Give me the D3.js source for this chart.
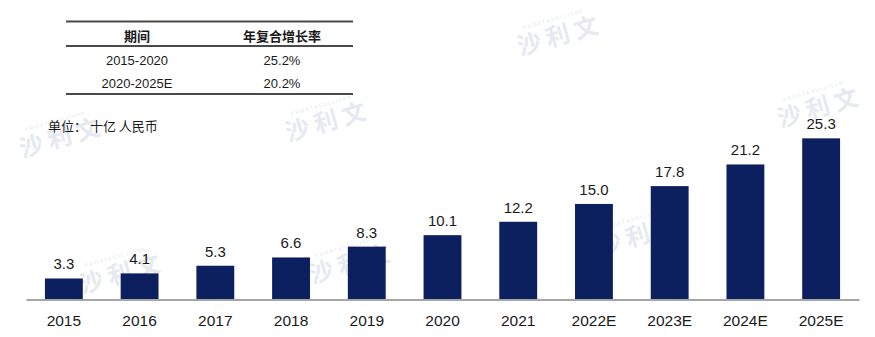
<!DOCTYPE html>
<html>
<head>
<meta charset="utf-8">
<script src="https://cdn.jsdelivr.net/npm/d3@7"></script>
<style>
  html, body { margin: 0; padding: 0; background: #fff; }
  svg { display: block; font-family: "Liberation Sans", Arial, "Noto Sans CJK SC", sans-serif; }
</style>
</head>
<body>
<svg id="chart" width="875" height="337"></svg>
<script>
// Market size, billion RMB
const years = ["2015", "2016", "2017", "2018", "2019", "2020", "2021", "2022E", "2023E", "2024E", "2025E"];
const values = [3.3, 4.1, 5.3, 6.6, 8.3, 10.1, 12.2, 15.0, 17.8, 21.2, 25.3];

// CAGR table
const tableHeader = ["期间", "年复合增长率"];
const periods = ["2015-2020", "2020-2025E"];
const cagr = ["25.2%", "20.2%"];

const unitLabel = "单位： 十亿 人民币";
const brand = "沙 利 文";
const brandSmall = "F R O S T  &  S U L L I V A N";

const svg = d3.select("#chart");

// Background watermark layer
const wmPos = [[62, 146], [328, 130], [560, 44], [820, 116], [122, 282], [352, 272], [640, 244]];
const wm = svg.append("g").attr("class", "watermark");
wmPos.forEach(([x, y]) => {
  const g = wm.append("g").attr("transform", `translate(${x},${y}) rotate(-16)`);
  g.append("text")
    .attr("text-anchor", "middle")
    .attr("font-family", "Noto Sans CJK SC")
    .attr("font-size", 24)
    .attr("font-weight", 700)
    .attr("fill", "#e6e9ef")
    .text(brand);
  g.append("text")
    .attr("text-anchor", "middle")
    .attr("y", -24)
    .attr("font-size", 5)
    .attr("fill", "#e2e6ec")
    .text(brandSmall);
});

// Scales
const x = d3.scaleBand()
  .domain(years)
  .range([26, 859])
  .paddingInner(0.5)
  .paddingOuter(0.25);

const y = d3.scaleLinear()
  .domain([0, 28])
  .range([299.5, 299.5 - 28 * 6.37]);

// Bars
svg.append("g")
  .selectAll("rect")
  .data(values)
  .join("rect")
  .attr("x", (d, i) => x(years[i]))
  .attr("y", d => y(d))
  .attr("width", x.bandwidth())
  .attr("height", d => y(0) - y(d))
  .attr("fill", "#0c1f5e");

// Value labels
svg.append("g")
  .selectAll("text")
  .data(values)
  .join("text")
  .attr("x", (d, i) => x(years[i]) + x.bandwidth() / 2)
  .attr("y", d => y(d) - 9)
  .attr("text-anchor", "middle")
  .attr("font-size", 15)
  .attr("fill", "#1a1a1a")
  .text(d => d.toFixed(1));

// X axis
const xAxis = svg.append("g")
  .attr("transform", `translate(0,${y(0)})`)
  .call(d3.axisBottom(x).tickSize(0).tickPadding(15));
xAxis.select(".domain").attr("stroke", "#a6a6a6").attr("stroke-width", 2);
xAxis.selectAll("text")
  .attr("font-size", 15.5)
  .attr("font-family", "Liberation Sans, Arial, sans-serif")
  .attr("fill", "#1a1a1a");

// CAGR table
const tbl = svg.append("g").attr("class", "cagr-table");
const tx0 = 66, tx1 = 353;
const colX = [137, 282];
[21.5, 46, 94].forEach(ly => {
  tbl.append("line")
    .attr("x1", tx0).attr("x2", tx1)
    .attr("y1", ly).attr("y2", ly)
    .attr("stroke", "#4a4a4a")
    .attr("stroke-width", 2);
});
tableHeader.forEach((t, i) => {
  tbl.append("text")
    .attr("x", colX[i]).attr("y", 40.5)
    .attr("text-anchor", "middle")
    .attr("font-family", "Noto Sans CJK SC")
    .attr("font-size", 13)
    .attr("font-weight", 700)
    .attr("fill", "#1a1a1a")
    .text(t);
});
periods.forEach((p, r) => {
  const ry = 64.5 + r * 23.3;
  tbl.append("text")
    .attr("x", colX[0]).attr("y", ry)
    .attr("text-anchor", "middle")
    .attr("font-size", 13)
    .attr("fill", "#1a1a1a")
    .text(p);
  tbl.append("text")
    .attr("x", colX[1]).attr("y", ry)
    .attr("text-anchor", "middle")
    .attr("font-size", 13)
    .attr("fill", "#1a1a1a")
    .text(cagr[r]);
});

// Unit note
svg.append("text")
  .attr("x", 48).attr("y", 131)
  .attr("font-family", "Noto Sans CJK SC")
  .attr("font-size", 13)
  .attr("fill", "#1a1a1a")
  .text(unitLabel);
</script>
</body>
</html>
